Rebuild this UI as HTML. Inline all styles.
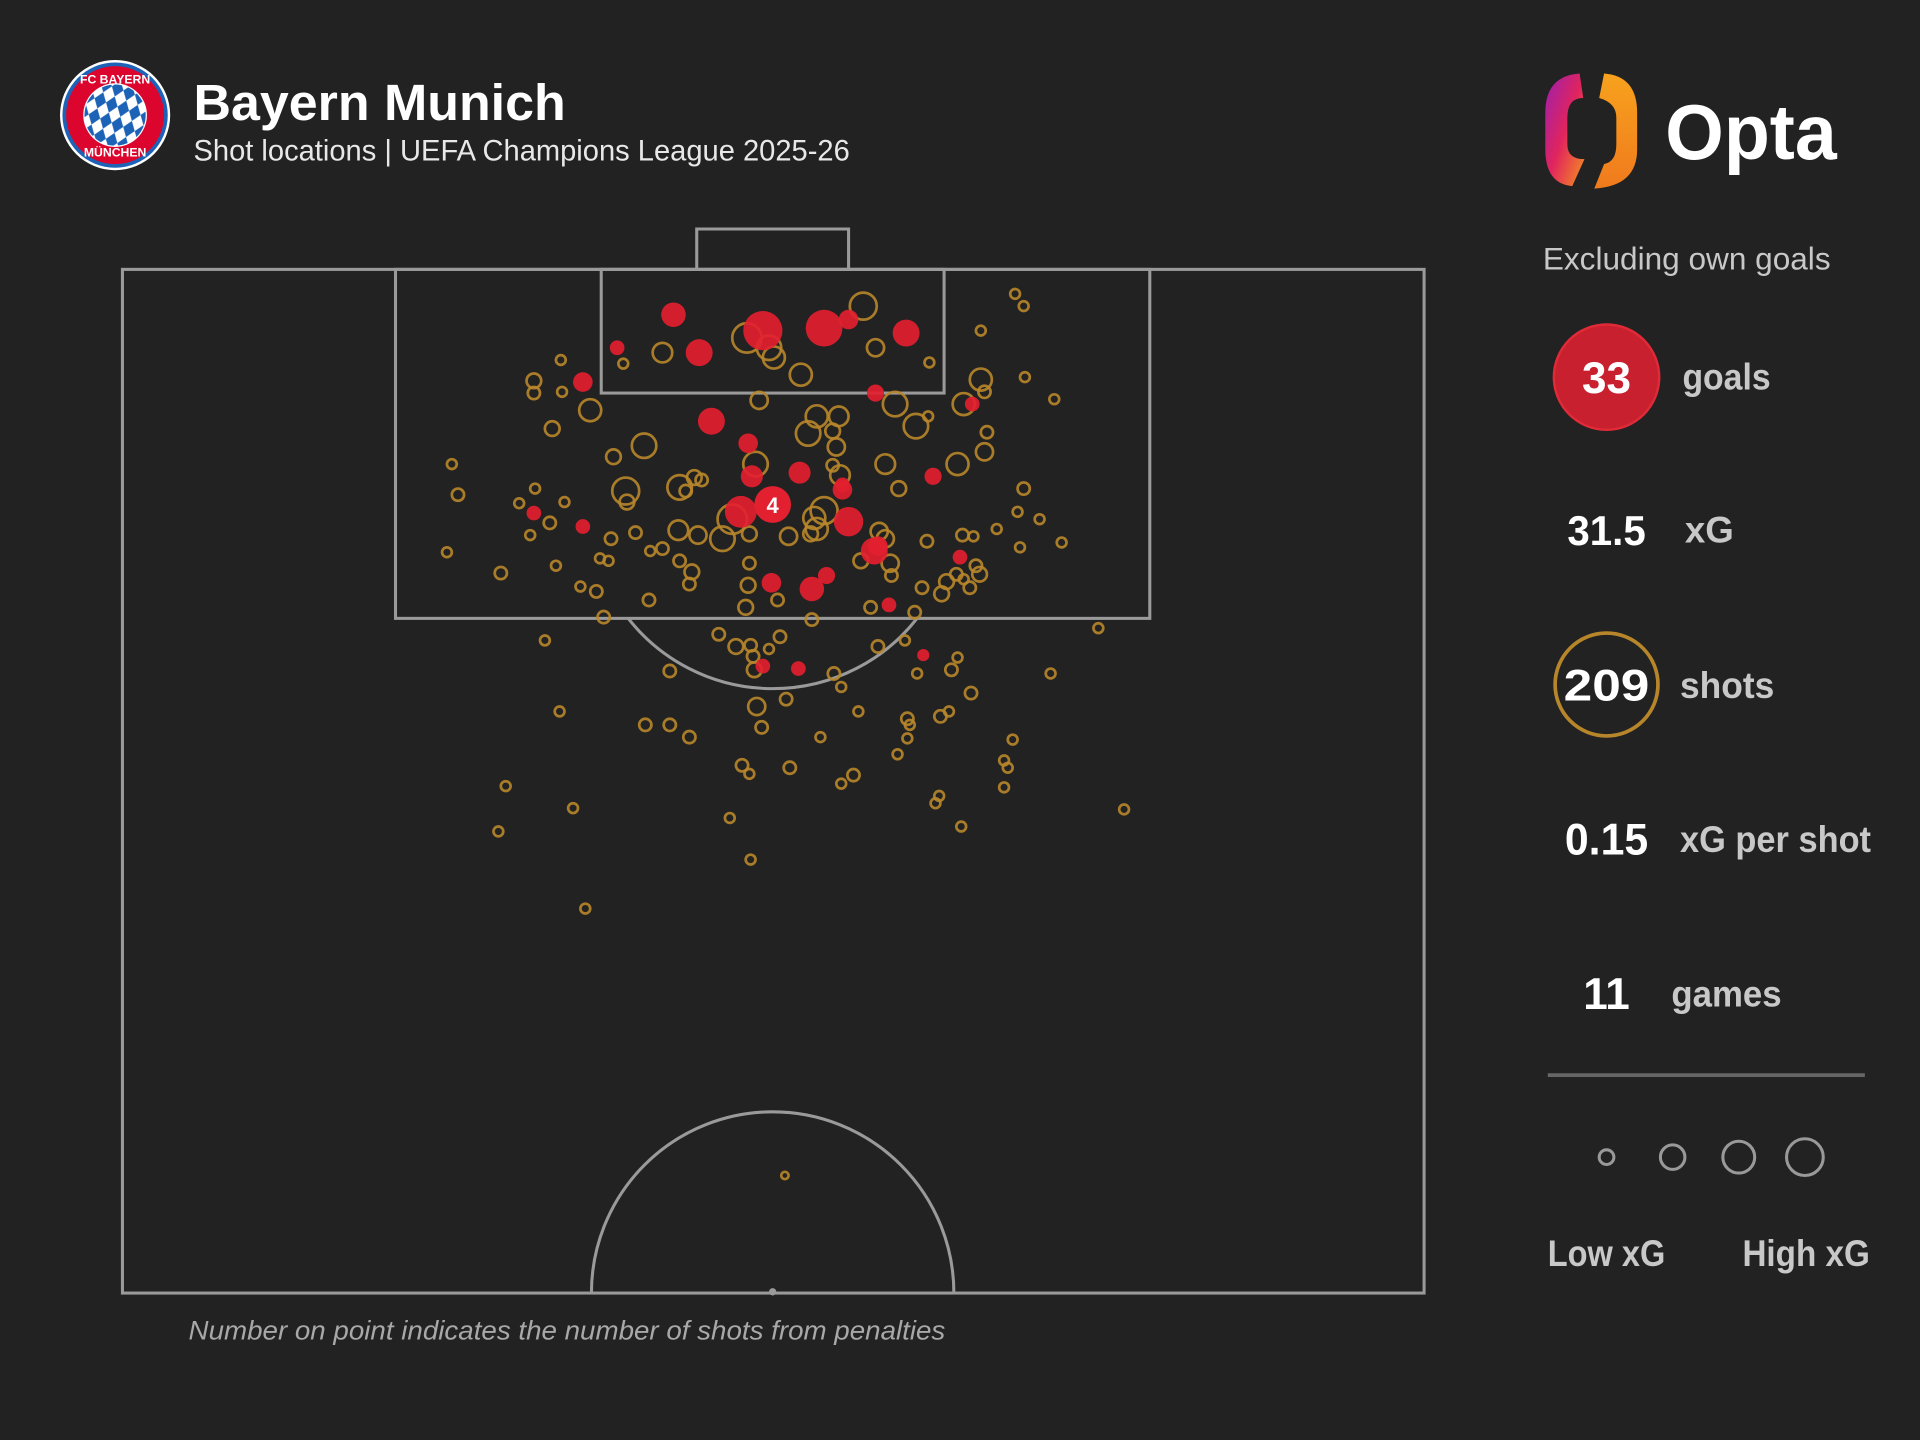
<!DOCTYPE html>
<html><head><meta charset="utf-8"><style>
html,body{margin:0;padding:0;background:#222222;}
svg{display:block;}
text{font-family:"Liberation Sans","DejaVu Sans",sans-serif;}
</style></head><body>
<svg width="1920" height="1440" viewBox="0 0 1568 1176" xmlns="http://www.w3.org/2000/svg">
<rect width="1568" height="1176" fill="#222222"/>
<defs>
<linearGradient id="og" x1="0" y1="0" x2="1" y2="1"><stop offset="0" stop-color="#9b1fb0"/><stop offset="0.5" stop-color="#e0245e"/><stop offset="1" stop-color="#f7941d"/></linearGradient>
<linearGradient id="og2" x1="0" y1="0" x2="0" y2="1"><stop offset="0" stop-color="#f7a21d"/><stop offset="1" stop-color="#f07a1d"/></linearGradient>
<pattern id="dia" width="10" height="14" patternUnits="userSpaceOnUse" patternTransform="rotate(20)"><rect width="10" height="14" fill="#fff"/><path d="M5 0 L10 7 L5 14 L0 7Z" fill="#1c63b7"/></pattern>
</defs>
<circle cx="94" cy="94" r="45" fill="#fff"/>
<circle cx="94" cy="94" r="43" fill="#1c63b7"/>
<circle cx="94" cy="94" r="40" fill="#dc052d"/>
<circle cx="94" cy="94" r="26" fill="#fff"/>
<circle cx="94" cy="94" r="25" fill="url(#dia)"/>
<text x="94" y="68" font-size="10" font-weight="bold" fill="#fff" text-anchor="middle">FC BAYERN</text>
<text x="94" y="128" font-size="10" font-weight="bold" fill="#fff" text-anchor="middle">MÜNCHEN</text>
<text x="158" y="98" font-size="42" font-weight="bold" fill="#fff" textLength="304" lengthAdjust="spacingAndGlyphs">Bayern Munich</text>
<text x="158" y="131" font-size="24" fill="#e8e8e8" textLength="536" lengthAdjust="spacingAndGlyphs">Shot locations | UEFA Champions League 2025-26</text>
<path d="M1290 60 Q1262 62 1262 92 L1262 122 Q1262 150 1284 152 L1294 130 Q1280 130 1280 118 L1280 96 Q1280 80 1293 80 Z" fill="url(#og)"/>
<path d="M1310 60 Q1337 62 1337 92 L1337 122 Q1337 152 1302 154 L1310 134 Q1320 132 1320 118 L1320 96 Q1320 84 1306 80 Z" fill="url(#og2)"/>
<text x="1360" y="130" font-size="64" font-weight="bold" fill="#fff" textLength="140" lengthAdjust="spacingAndGlyphs">Opta</text>
<text x="1260" y="220" font-size="26" fill="#c8c8c8" textLength="235" lengthAdjust="spacingAndGlyphs">Excluding own goals</text>
<circle cx="1312" cy="308" r="43" fill="#c8202e" stroke="#e02a38" stroke-width="2"/>
<text x="1312" y="321" font-size="36" font-weight="bold" fill="#fff" text-anchor="middle">33</text>
<text x="1374" y="318" font-size="30" font-weight="bold" fill="#c8c8c8" textLength="72" lengthAdjust="spacingAndGlyphs">goals</text>
<text x="1312" y="445" font-size="34" font-weight="bold" fill="#fff" text-anchor="middle" textLength="64" lengthAdjust="spacingAndGlyphs">31.5</text>
<text x="1376" y="443" font-size="30" font-weight="bold" fill="#c8c8c8">xG</text>
<circle cx="1312" cy="559" r="42" fill="none" stroke="#b8862a" stroke-width="3"/>
<text x="1312" y="572" font-size="36" font-weight="bold" fill="#fff" text-anchor="middle" textLength="70" lengthAdjust="spacingAndGlyphs">209</text>
<text x="1372" y="570" font-size="30" font-weight="bold" fill="#c8c8c8" textLength="77" lengthAdjust="spacingAndGlyphs">shots</text>
<text x="1312" y="698" font-size="36" font-weight="bold" fill="#fff" text-anchor="middle" textLength="68" lengthAdjust="spacingAndGlyphs">0.15</text>
<text x="1372" y="696" font-size="30" font-weight="bold" fill="#c8c8c8" textLength="156" lengthAdjust="spacingAndGlyphs">xG per shot</text>
<text x="1312" y="824" font-size="36" font-weight="bold" fill="#fff" text-anchor="middle">11</text>
<text x="1365" y="822" font-size="30" font-weight="bold" fill="#c8c8c8" textLength="90" lengthAdjust="spacingAndGlyphs">games</text>
<line x1="1264" y1="878" x2="1523" y2="878" stroke="#666" stroke-width="3"/>
<g fill="none" stroke="#999" stroke-width="2.5">
<circle cx="1312" cy="945" r="6"/><circle cx="1366" cy="945" r="10"/><circle cx="1420" cy="945" r="13"/><circle cx="1474" cy="945" r="15"/></g>
<text x="1312" y="1034" font-size="30" font-weight="bold" fill="#c8c8c8" text-anchor="middle" textLength="96" lengthAdjust="spacingAndGlyphs">Low xG</text>
<text x="1475" y="1034" font-size="30" font-weight="bold" fill="#c8c8c8" text-anchor="middle" textLength="104" lengthAdjust="spacingAndGlyphs">High xG</text>
<g fill="none" stroke="#9a9a9a" stroke-width="2.5">
<rect x="100" y="220" width="1063" height="836"/>
<path d="M569 220 V187 H693 V220"/>
<rect x="323" y="220" width="616" height="285"/>
<rect x="491" y="220" width="280" height="101"/>
<path d="M513 505 A150 150 0 0 0 749 505"/>
<path d="M483 1056 A148 148 0 0 1 779 1056"/>
</g>
<circle cx="631" cy="1055" r="3" fill="#9a9a9a"/>
<g fill="none" stroke="#b8862a" stroke-width="2.2" stroke-opacity="0.9">
<circle cx="829" cy="240" r="4"/><circle cx="836" cy="250" r="4"/><circle cx="705" cy="250" r="11"/><circle cx="801" cy="270" r="4"/><circle cx="610" cy="276" r="12"/><circle cx="628" cy="284" r="10"/><circle cx="632" cy="292" r="9"/><circle cx="715" cy="284" r="7"/><circle cx="541" cy="288" r="8"/><circle cx="509" cy="297" r="4"/><circle cx="759" cy="296" r="4"/><circle cx="654" cy="306" r="9"/><circle cx="458" cy="294" r="4"/><circle cx="436" cy="311" r="6"/><circle cx="436" cy="321" r="5"/><circle cx="459" cy="320" r="4"/><circle cx="482" cy="335" r="9"/><circle cx="801" cy="310" r="9"/><circle cx="804" cy="320" r="5"/><circle cx="837" cy="308" r="4"/><circle cx="861" cy="326" r="4"/><circle cx="620" cy="327" r="7"/><circle cx="731" cy="330" r="10"/><circle cx="787" cy="330" r="9"/><circle cx="748" cy="348" r="10"/><circle cx="758" cy="340" r="4"/><circle cx="451" cy="350" r="6"/><circle cx="685" cy="340" r="8"/><circle cx="667" cy="340" r="9"/><circle cx="660" cy="354" r="10"/><circle cx="680" cy="352" r="6"/><circle cx="683" cy="365" r="7"/><circle cx="501" cy="373" r="6"/><circle cx="526" cy="364" r="10"/><circle cx="806" cy="353" r="5"/><circle cx="804" cy="369" r="7"/><circle cx="782" cy="379" r="9"/><circle cx="617" cy="379" r="10"/><circle cx="723" cy="379" r="8"/><circle cx="680" cy="380" r="5"/><circle cx="686" cy="388" r="8"/><circle cx="734" cy="399" r="6"/><circle cx="369" cy="379" r="4"/><circle cx="374" cy="404" r="5"/><circle cx="437" cy="399" r="4"/><circle cx="424" cy="411" r="4"/><circle cx="461" cy="410" r="4"/><circle cx="511" cy="401" r="11"/><circle cx="512" cy="410" r="6"/><circle cx="555" cy="398" r="10"/><circle cx="567" cy="390" r="6"/><circle cx="573" cy="392" r="5"/><circle cx="560" cy="401" r="5"/><circle cx="554" cy="433" r="8"/><circle cx="570" cy="437" r="7"/><circle cx="598" cy="424" r="12"/><circle cx="590" cy="440" r="10"/><circle cx="541" cy="448" r="5"/><circle cx="555" cy="458" r="5"/><circle cx="565" cy="467" r="6"/><circle cx="563" cy="477" r="5"/><circle cx="612" cy="436" r="6"/><circle cx="612" cy="460" r="5"/><circle cx="611" cy="478" r="6"/><circle cx="609" cy="496" r="6"/><circle cx="635" cy="490" r="5"/><circle cx="644" cy="438" r="7"/><circle cx="667" cy="432" r="9"/><circle cx="665" cy="423" r="9"/><circle cx="673" cy="417" r="11"/><circle cx="718" cy="434" r="7"/><circle cx="723" cy="440" r="7"/><circle cx="757" cy="442" r="5"/><circle cx="786" cy="437" r="5"/><circle cx="795" cy="438" r="4"/><circle cx="814" cy="432" r="4"/><circle cx="831" cy="418" r="4"/><circle cx="836" cy="399" r="5"/><circle cx="849" cy="424" r="4"/><circle cx="867" cy="443" r="4"/><circle cx="833" cy="447" r="4"/><circle cx="800" cy="469" r="6"/><circle cx="797" cy="462" r="5"/><circle cx="792" cy="480" r="5"/><circle cx="787" cy="473" r="4"/><circle cx="773" cy="475" r="6"/><circle cx="769" cy="485" r="6"/><circle cx="781" cy="469" r="5"/><circle cx="753" cy="480" r="5"/><circle cx="727" cy="460" r="7"/><circle cx="728" cy="470" r="5"/><circle cx="747" cy="500" r="5"/><circle cx="711" cy="496" r="5"/><circle cx="703" cy="458" r="6"/><circle cx="662" cy="436" r="6"/><circle cx="365" cy="451" r="4"/><circle cx="409" cy="468" r="5"/><circle cx="433" cy="437" r="4"/><circle cx="449" cy="427" r="5"/><circle cx="454" cy="462" r="4"/><circle cx="474" cy="479" r="4"/><circle cx="487" cy="483" r="5"/><circle cx="490" cy="456" r="4"/><circle cx="497" cy="458" r="4"/><circle cx="499" cy="440" r="5"/><circle cx="519" cy="435" r="5"/><circle cx="531" cy="450" r="4"/><circle cx="493" cy="504" r="5"/><circle cx="445" cy="523" r="4"/><circle cx="530" cy="490" r="5"/><circle cx="547" cy="548" r="5"/><circle cx="587" cy="518" r="5"/><circle cx="601" cy="528" r="6"/><circle cx="613" cy="527" r="5"/><circle cx="615" cy="536" r="5"/><circle cx="628" cy="530" r="4"/><circle cx="616" cy="547" r="6"/><circle cx="637" cy="520" r="5"/><circle cx="642" cy="571" r="5"/><circle cx="618" cy="577" r="7"/><circle cx="622" cy="594" r="5"/><circle cx="663" cy="506" r="5"/><circle cx="681" cy="550" r="5"/><circle cx="687" cy="561" r="4"/><circle cx="717" cy="528" r="5"/><circle cx="739" cy="523" r="4"/><circle cx="749" cy="550" r="4"/><circle cx="777" cy="547" r="5"/><circle cx="782" cy="537" r="4"/><circle cx="793" cy="566" r="5"/><circle cx="741" cy="587" r="5"/><circle cx="743" cy="592" r="4"/><circle cx="741" cy="603" r="4"/><circle cx="768" cy="585" r="5"/><circle cx="775" cy="581" r="4"/><circle cx="701" cy="581" r="4"/><circle cx="670" cy="602" r="4"/><circle cx="645" cy="627" r="5"/><circle cx="606" cy="625" r="5"/><circle cx="612" cy="632" r="4"/><circle cx="527" cy="592" r="5"/><circle cx="547" cy="592" r="5"/><circle cx="563" cy="602" r="5"/><circle cx="457" cy="581" r="4"/><circle cx="827" cy="604" r="4"/><circle cx="820" cy="621" r="4"/><circle cx="823" cy="627" r="4"/><circle cx="820" cy="643" r="4"/><circle cx="858" cy="550" r="4"/><circle cx="897" cy="513" r="4"/><circle cx="918" cy="661" r="4"/><circle cx="785" cy="675" r="4"/><circle cx="767" cy="650" r="4"/><circle cx="764" cy="656" r="4"/><circle cx="733" cy="616" r="4"/><circle cx="697" cy="633" r="5"/><circle cx="687" cy="640" r="4"/><circle cx="596" cy="668" r="4"/><circle cx="613" cy="702" r="4"/><circle cx="468" cy="660" r="4"/><circle cx="413" cy="642" r="4"/><circle cx="407" cy="679" r="4"/><circle cx="478" cy="742" r="4"/><circle cx="641" cy="960" r="3"/>
</g>
<g fill="#e3202f" fill-opacity="0.92">
<circle cx="550" cy="257" r="10"/><circle cx="623" cy="270" r="16"/><circle cx="673" cy="268" r="15"/><circle cx="693" cy="261" r="8"/><circle cx="740" cy="272" r="11"/><circle cx="571" cy="288" r="11"/><circle cx="504" cy="284" r="6"/><circle cx="476" cy="312" r="8"/><circle cx="715" cy="321" r="7"/><circle cx="794" cy="330" r="6"/><circle cx="581" cy="344" r="11"/><circle cx="611" cy="362" r="8"/><circle cx="614" cy="389" r="9"/><circle cx="653" cy="386" r="9"/><circle cx="688" cy="400" r="8"/><circle cx="762" cy="389" r="7"/><circle cx="605" cy="418" r="13"/><circle cx="693" cy="426" r="12"/><circle cx="714" cy="450" r="11"/><circle cx="436" cy="419" r="6"/><circle cx="476" cy="430" r="6"/><circle cx="675" cy="470" r="7"/><circle cx="663" cy="481" r="10"/><circle cx="630" cy="476" r="8"/><circle cx="784" cy="455" r="6"/><circle cx="726" cy="494" r="6"/><circle cx="754" cy="535" r="5"/><circle cx="623" cy="544" r="6"/><circle cx="652" cy="546" r="6"/><circle cx="717" cy="446" r="8"/><circle cx="688" cy="396" r="6"/>
</g>
<circle cx="631" cy="412" r="15" fill="#e3202f"/>
<text x="631" y="419" font-size="18" font-weight="bold" fill="#fff" text-anchor="middle">4</text>
<text x="154" y="1094" font-size="22" font-style="italic" fill="#a8a8a8" textLength="618" lengthAdjust="spacingAndGlyphs">Number on point indicates the number of shots from penalties</text>
</svg>
</body></html>
